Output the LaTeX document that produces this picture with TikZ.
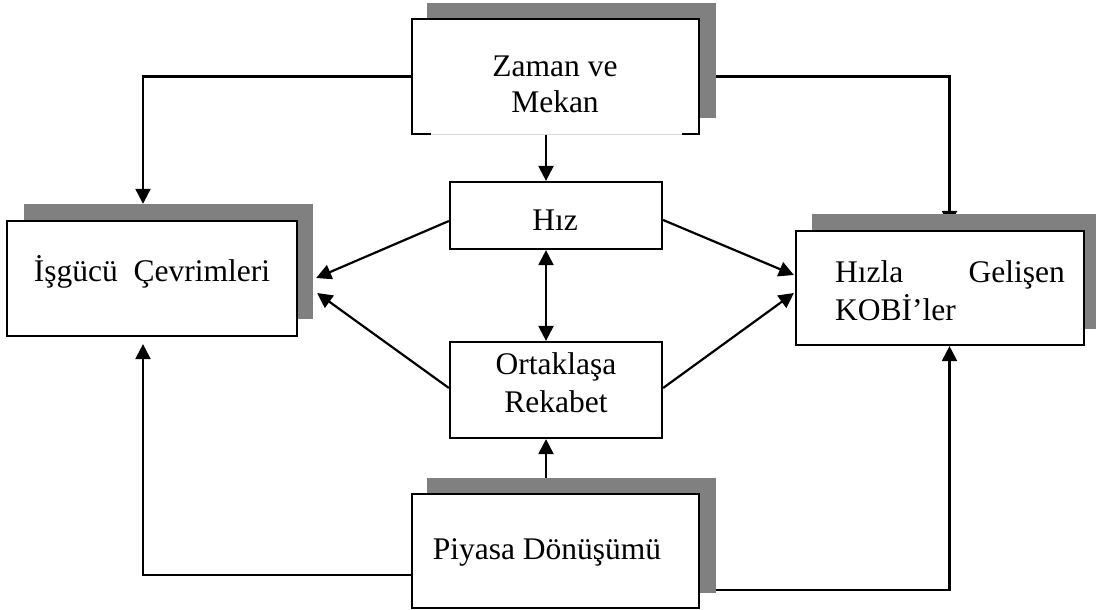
\documentclass[tikz,border=0pt]{standalone}
\usepackage{fontspec}
\setmainfont{Liberation Serif}
\usetikzlibrary{arrows.meta,calc}
\pgfdeclarelayer{bg}
\pgfdeclarelayer{links}
\pgfdeclarelayer{shades}
\pgfsetlayers{bg,links,shades,main}
\definecolor{shadegray}{RGB}{128,128,128}
\begin{document}
\begin{tikzpicture}[x=1pt,y=-1pt,
  box/.style={draw=black,line width=2.2pt,fill=white,inner sep=0pt,rectangle},
  boxfill/.style={draw=none,fill=white,inner sep=0pt,rectangle},
  edge/.style={line width=2.2pt,line join=miter},
  shade/.style={fill=shadegray,draw=none,inner sep=0pt,rectangle},
  link/.style={line width=2.2pt,-{Triangle[length=15pt,width=15pt]}},
  dlink/.style={line width=2.2pt,{Triangle[length=15pt,width=15pt]}-{Triangle[length=15pt,width=15pt]}},
  txt/.style={inner sep=0pt,anchor=base,font=\fontsize{31.5}{37}\selectfont}]

\begin{pgfonlayer}{bg}
  \fill[white] (0,0) rectangle (1096,610);
\end{pgfonlayer}
\useasboundingbox (0,0) rectangle (1096,610);

% boxes
\node[boxfill,minimum width=287pt,minimum height=115pt] (zaman) at (555.5,76.5) {};
\node[box,minimum width=290pt,minimum height=115pt] (isgucu) at (152,278.5) {};
\node[box,minimum width=288pt,minimum height=114pt] (kobi) at (940,288) {};
\node[box,minimum width=212pt,minimum height=67pt] (hiz) at (556,215.5) {};
\node[box,minimum width=212pt,minimum height=96pt] (ortak) at (556,390) {};
\node[box,minimum width=287pt,minimum height=114pt] (piyasa) at (555.5,551) {};

% top box: bottom edge only solid near the corners
\draw[edge] ($(zaman.south west)+(19,0)$) -- (zaman.south west) -- (zaman.north west)
  -- (zaman.north east) -- (zaman.south east) -- ++(-17,0);
\draw[gray!30,line width=0.6pt] ($(zaman.south west)+(19,0)$) -- ($(zaman.south east)+(-17,0)$);

% drop shadows
\begin{pgfonlayer}{shades}
  \node[shade,minimum width=289pt,minimum height=115pt] (zamanS) at (571.5,60.5) {};
  \node[shade,minimum width=289pt,minimum height=115pt] (isgucuS) at (168.5,261.5) {};
  \node[shade,minimum width=284pt,minimum height=115pt] (kobiS) at (954,271.5) {};
  \node[shade,minimum width=289pt,minimum height=115pt] (piyasaS) at (571.5,535.5) {};
\end{pgfonlayer}

% texts
\node[txt] (zamanT1) at (555,77) {Zaman ve};
\node[txt] (zamanT2) at (555,113) {Mekan};
\node[txt] (hizT) at (555,230) {Hız};
\node[txt] (ortakT1) at (556,374) {Ortaklaşa};
\node[txt] (ortakT2) at (556,412) {Rekabet};
\node[txt] (piyasaT) at (547,559) {Piyasa Dönüşümü};
\node[txt] (isgucuT) at (152,281) {İşgücü~~Çevrimleri};
\node[txt,anchor=base west] (kobiT1) at (835,282) {Hızla};
\node[txt,anchor=base east] (kobiT2) at (1065,282) {Gelişen};
\node[txt,anchor=base west] (kobiT3) at (835,320) {KOBİ’ler};

% connectors
\coordinate (railL) at (143,0);
\coordinate (railR) at (949.5,0);
\coordinate (railM) at (546,0);
\coordinate (pl) at ($(piyasa.west)+(0,24)$);
\coordinate (pr) at ($(piyasa.east)+(0,39)$);
\begin{pgfonlayer}{links}
  \draw[link] (zaman.west) -| (railL |- isgucuS.north);
  \draw[link,shorten >=4pt] (zaman.east) -| (railR |- kobi.north);
  \draw[link] (railM |- zaman.south) -- (railM |- hiz.north);
  \draw[dlink] (railM |- hiz.south) -- (railM |- ortak.north);
  \draw[link] (railM |- piyasa.north) -- (railM |- ortak.south);
  \draw[link,shorten >=7pt] (pl) -| (railL |- isgucu.south);
  \draw[link] (pr) -| (railR |- kobi.south);
  \draw[link] ($(hiz.west)+(0,5.5)$) -- ($(isgucuS.east)+(3,16.5)$);
  \draw[link] ($(ortak.west)+(0,-2)$) -- ($(isgucuS.east)+(4,31.5)$);
  \draw[link] ($(hiz.east)+(0,4.5)$) -- ($(kobi.west)+(-1,-13)$);
  \draw[link] ($(ortak.east)+(0,-2)$) -- ($(kobi.west)+(-1,5)$);
\end{pgfonlayer}
\end{tikzpicture}
\end{document}
